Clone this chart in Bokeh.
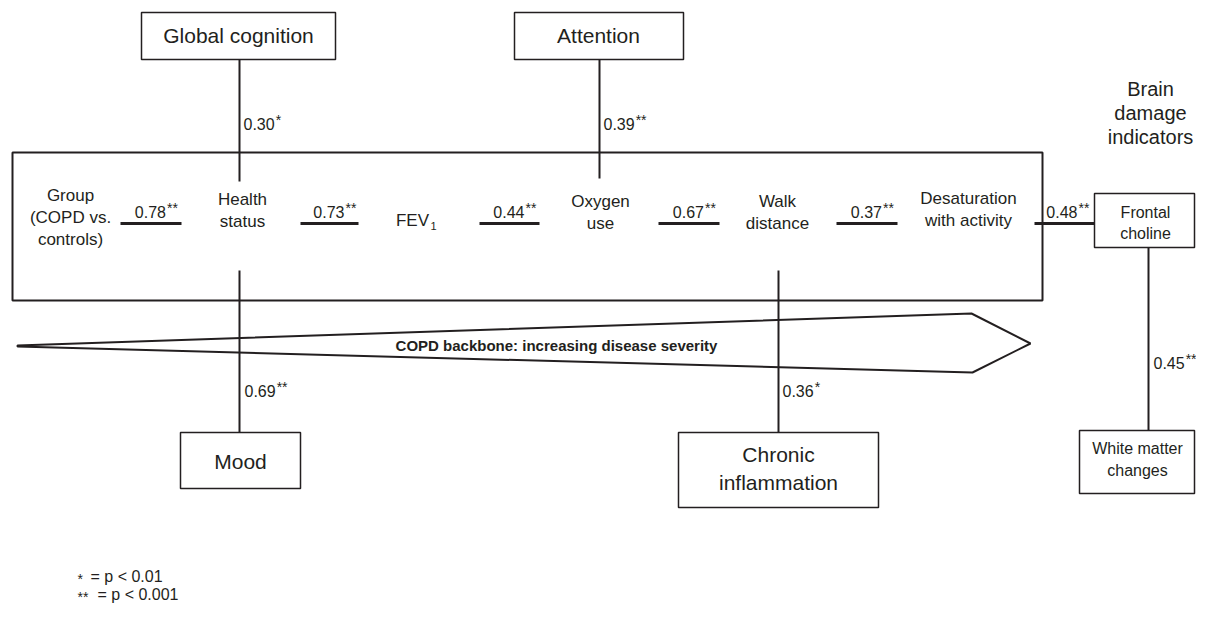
from bokeh.plotting import figure
from bokeh.models import Range1d
from bokeh.embed import file_html
from bokeh.resources import INLINE
from bokeh.core.properties import value

# ---------------- data ----------------
backbone_nodes = ["Group\n(COPD vs.\ncontrols)", "Health\nstatus", "FEV", "Oxygen\nuse",
                  "Walk\ndistance", "Desaturation\nwith activity"]
backbone_coef = [0.78, 0.73, 0.44, 0.67, 0.37]
backbone_sig = ["**", "**", "**", "**", "**"]

outcome_names = ["Global cognition", "Attention", "Mood", "Chronic\ninflammation"]
outcome_coef = [0.30, 0.39, 0.69, 0.36]
outcome_sig = ["*", "**", "**", "*"]

brain_title = "Brain\ndamage\nindicators"
brain_names = ["Frontal\ncholine", "White matter\nchanges"]
brain_coef = [0.48, 0.45]
brain_sig = ["**", "**"]

backbone_caption = "COPD backbone: increasing disease severity"
legend_sym = ["*", "**"]
legend_txt = ["= p < 0.01", "= p < 0.001"]

# ---------------- layout (reference pixel space) ----------------
INK = "#231f20"
FONT = value("Liberation Sans")

node_x = [70, 242, 414, 600, 777, 968]
node_y = [217, 210, 220, 212, 212, 209]
seg_x = [(120, 181), (300, 358), (479, 539), (658, 719), (836, 897)]
SEG_Y = 223

p = figure(width=1196, height=606, x_range=Range1d(0, 1196), y_range=Range1d(606, 0),
           output_backend="svg", toolbar_location=None, min_border=0)
p.axis.visible = False
p.grid.visible = False
p.outline_line_color = None
p.background_fill_color = "white"


def txt(xs, ys, texts, size, align="center", bold=False, baseline="middle"):
    p.text(x=xs, y=ys, text=texts, text_font=FONT, text_font_size=f"{size}px",
           text_color=INK, text_align=align, text_baseline=baseline,
           text_font_style="bold" if bold else "normal")


def multiline(x, yc, label, size, lh):
    lines = label.split("\n")
    n = len(lines)
    ys = [yc + (i - (n - 1) / 2) * lh for i in range(n)]
    txt([x] * n, ys, lines, size)


def coef_label(anchor_x, y, coef, sig, size=16, left=False):
    num = f"{coef:.2f}"
    if left:
        w = size * (0.556 * 3 + 0.278)
        txt([anchor_x], [y], [num], size, align="left")
        txt([anchor_x + w + 1], [y - 4], [sig], 14, align="left")
    else:
        txt([anchor_x], [y], [num], size, align="right")
        txt([anchor_x + 1], [y - 4], [sig], 14, align="left")


def box(l, r, t, b, lw=1.5):
    p.quad(left=[l], right=[r], top=[t], bottom=[b], fill_color="white",
           line_color=INK, line_width=lw)


def vline(x, y0, y1, lw=2):
    p.segment(x0=[x], y0=[y0], x1=[x], y1=[y1], line_color=INK, line_width=lw)


# main backbone box
box(12, 1042, 152, 300, lw=2)

# arrow
p.patch(x=[17, 971, 1030, 972, 17], y=[345, 313, 343, 372, 346], fill_color="white",
        line_color=INK, line_width=2)
txt([556], [345], [backbone_caption], 15, bold=True)

# backbone nodes
for i, lab in enumerate(backbone_nodes):
    if lab == "FEV":
        txt([node_x[i] - 2], [node_y[i]], ["FEV"], 17)
        txt([node_x[i] + 16], [node_y[i] + 5], ["1"], 11, align="left")
    else:
        multiline(node_x[i], node_y[i], lab, 17, 22)

# backbone links
for i, c in enumerate(backbone_coef):
    x0, x1 = seg_x[i]
    p.segment(x0=[x0], y0=[SEG_Y], x1=[x1], y1=[SEG_Y], line_color=INK, line_width=3)
    coef_label((x0 + x1) / 2 + 15, 211, c, backbone_sig[i])

# outcome boxes
out_boxes = [(141, 335, 12, 59), (514, 683, 12, 59), (180, 300, 432, 488), (678, 878, 432, 507)]
out_text = [(238, 35), (598, 35), (240, 461), (778, 468)]
out_line = [(239, 59, 181), (599, 59, 178), (239, 270, 432), (778, 270, 432)]
out_lab = [(243, 123), (603, 123), (244, 390), (782, 390)]
for i, name in enumerate(outcome_names):
    lx, ly0, ly1 = out_line[i]
    vline(lx, ly0, ly1)
    l, r, t, b = out_boxes[i]
    box(l, r, t, b)
    multiline(out_text[i][0], out_text[i][1], name, 21, 28)
    coef_label(out_lab[i][0], out_lab[i][1], outcome_coef[i], outcome_sig[i], left=True)

# brain damage indicators
multiline(1150, 112, brain_title, 20, 24)
p.segment(x0=[1034], y0=[SEG_Y], x1=[1094], y1=[SEG_Y], line_color=INK, line_width=3)
coef_label(1077, 211, brain_coef[0], brain_sig[0])
vline(1148, 247, 430)
box(1094, 1194, 193, 247)
multiline(1145, 222, brain_names[0], 16, 21)
box(1079, 1194, 430, 493)
multiline(1137, 459, brain_names[1], 16, 22)
coef_label(1153, 362, brain_coef[1], brain_sig[1], left=True)

# legend
txt([77, 77], [578, 596], legend_sym, 14, align="left")
txt([90, 97], [576, 594], legend_txt, 16, align="left")

open("out.html", "w").write(file_html(p, INLINE))
